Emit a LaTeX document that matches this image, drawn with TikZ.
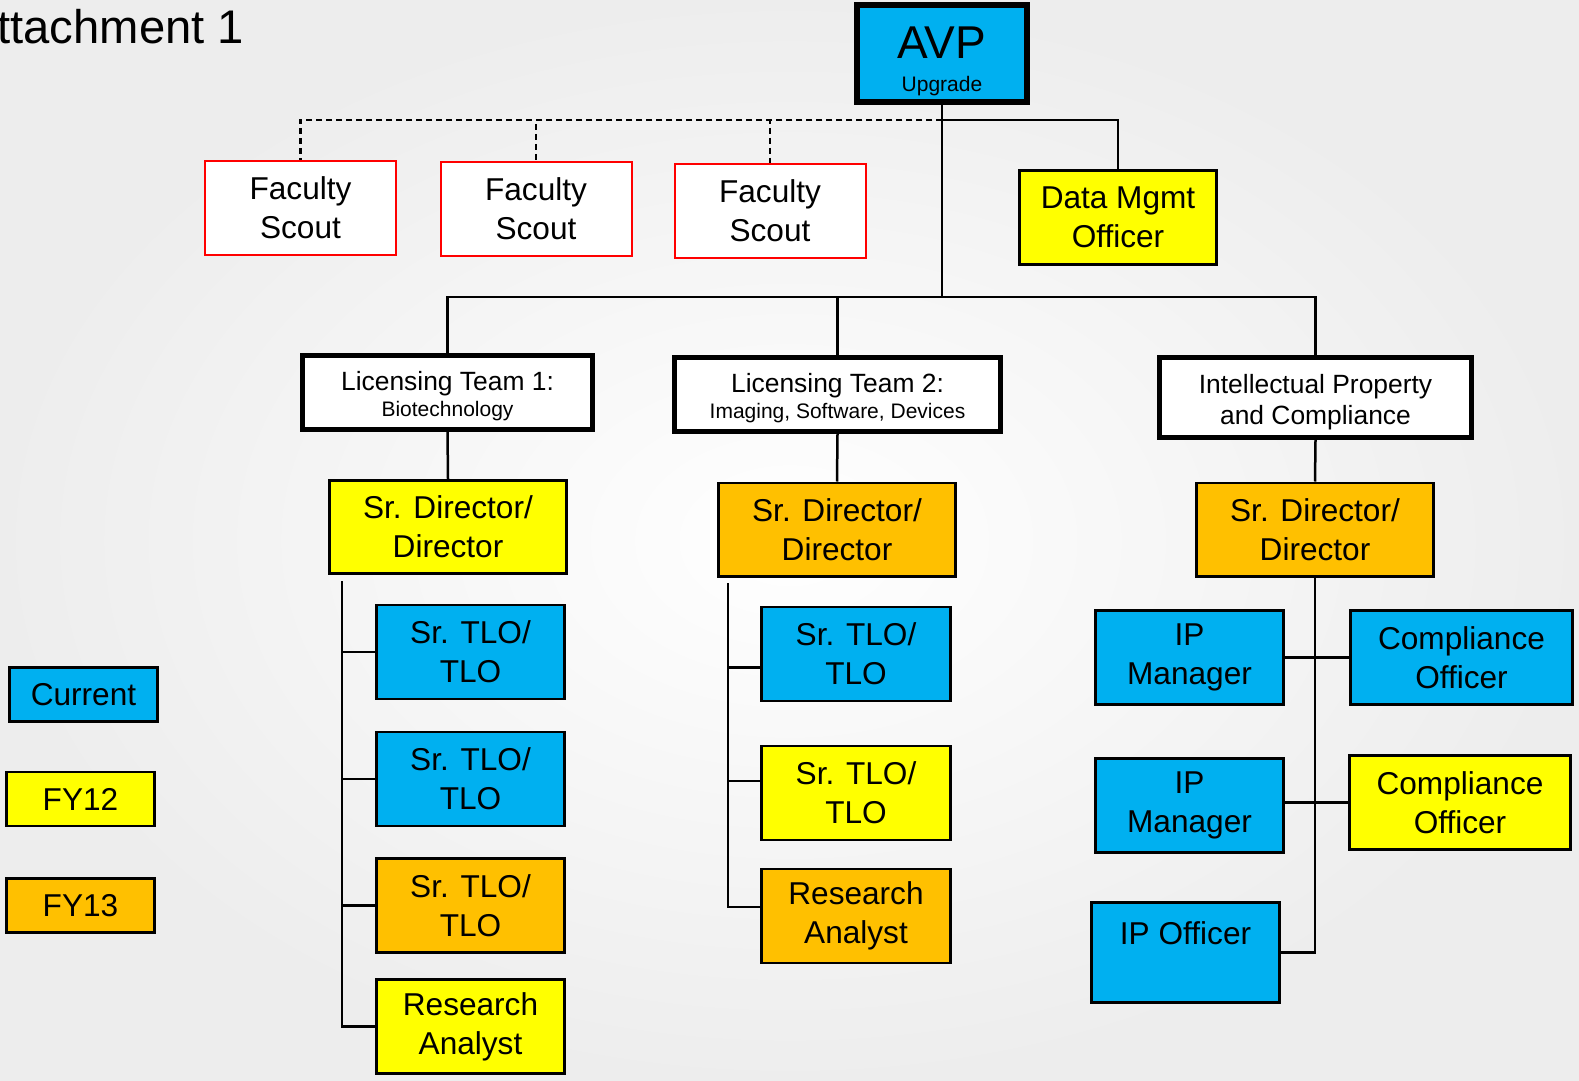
\documentclass[tikz,border=0pt]{standalone}
\usepackage{fontspec}
\setmainfont{Liberation Sans}
\definecolor{cblue}{RGB}{0,176,240}
\definecolor{cyellow}{RGB}{255,255,0}
\definecolor{corange}{RGB}{255,192,0}
\definecolor{cred}{RGB}{255,0,0}
\tikzset{
  box/.style={draw=black, line width=1.4pt, align=center, inner sep=0pt,
    minimum width=94pt, minimum height=47pt, font=\fontsize{15.8}{19.5}\selectfont},
  scout/.style={box, draw=cred, line width=1pt, fill=white, minimum width=95.5pt},
  teambox/.style={box, fill=white, line width=2.6pt, minimum height=37pt,
    font=\fontsize{13.2}{15.5}\selectfont},
  dirbox/.style={box, minimum width=118.6pt, minimum height=46.6pt},
  keybox/.style={box, minimum width=74pt, minimum height=27pt},
  link/.style={line width=1.25pt},
}
\newcommand{\smalltxt}{\fontsize{10.5}{12}\selectfont}
\begin{document}
\begin{tikzpicture}[x=0.5pt,y=0.5pt,yscale=-1,xscale=1]
\useasboundingbox (0,0) rectangle (1579,1081);
%Background
\shade[inner color=white, outer color=black!7] (0,0) rectangle (1579,1081);

% Text Node
\node[anchor=west, inner sep=0pt, font=\fontsize{23.6}{27}\selectfont] (title) at (-3,27) {ttachment 1};

%Shape: Rectangle [AVP]
\node[box, fill=cblue, line width=3pt, minimum width=85pt, minimum height=48.5pt] (avp) at (942,53.5)
  {{\fontsize{23}{26}\selectfont\rule{0pt}{24pt}AVP}\\[-3pt]{\smalltxt Upgrade}};

%Shape: Rectangle [scouts and data officer]
\node[scout] (fs1) at (300.5,207.5) {Faculty\\Scout};
\node[scout] (fs2) at (536,208.5) {Faculty\\Scout};
\node[scout] (fs3) at (770,211) {Faculty\\Scout};
\node[box, fill=cyellow, minimum width=98.5pt] (dmo) at (1118,217.5) {Data Mgmt\\Officer};

%Shape: Rectangle [teams]
\node[teambox, minimum width=145pt] (lt1) at (447.5,392.5) {\rule{0pt}{13pt}Licensing Team 1:\\[-2.5pt]{\smalltxt Biotechnology}};
\node[teambox, minimum width=163pt] (lt2) at (837.5,394.5) {\rule{0pt}{13pt}Licensing Team 2:\\[-2.5pt]{\smalltxt Imaging, Software, Devices}};
\node[teambox, minimum width=156pt, minimum height=40pt] (ipc) at (1315.5,397.5) {\rule{0pt}{14.6pt}Intellectual Property\\and Compliance};

%Shape: Rectangle [directors]
\node[dirbox, fill=cyellow] (sd1) at (448,527) {Sr. Director/\\Director};
\node[dirbox, fill=corange] (sd2) at (837,529.5) {Sr. Director/\\Director};
\node[dirbox, fill=corange] (sd3) at (1315,529.5) {Sr. Director/\\Director};

%Shape: Rectangle [team 1 staff]
\node[box, fill=cblue] (t11) at (470.5,652) {Sr. TLO/\\TLO};
\node[box, fill=cblue] (t12) at (470.5,779) {Sr. TLO/\\TLO};
\node[box, fill=corange] (t13) at (470.5,905.5) {Sr. TLO/\\TLO};
\node[box, fill=cyellow] (ra1) at (470.5,1026.5) {Research\\Analyst};

%Shape: Rectangle [team 2 staff]
\node[box, fill=cblue, minimum width=94.5pt] (t21) at (856,654) {Sr. TLO/\\TLO};
\node[box, fill=cyellow, minimum width=94.5pt] (t22) at (856,793) {Sr. TLO/\\TLO};
\node[box, fill=corange, minimum width=94.5pt] (ra2) at (856,916) {Research\\Analyst};

%Shape: Rectangle [IP staff]
\node[box, fill=cblue] (ipm1) at (1189.5,657.5) {IP\\Manager};
\node[box, fill=cblue, minimum width=111pt] (co1) at (1461.5,657.5) {Compliance\\Officer};
\node[box, fill=cblue] (ipm2) at (1189.5,805.5) {IP\\Manager};
\node[box, fill=cyellow, minimum width=110.5pt] (co2) at (1460,802.5) {Compliance\\Officer};
\node[box, fill=cblue, minimum height=50pt] (ipo) at (1185.5,952.5) {IP Officer\\\mbox{}};

%Shape: Rectangle [key]
\node[keybox, fill=cblue] (cur) at (83.5,694.5) {Current};
\node[keybox, fill=cyellow] (fy12) at (80.5,799) {FY12};
\node[keybox, fill=corange] (fy13) at (80.5,905.5) {FY13};

%Straight Lines [top level]
\coordinate (top) at (942,120);
\coordinate (mid) at (942,297);
\draw[link] (avp.south) -- (mid);
\draw[link] (top) -| (dmo.north);
\draw[link, dash pattern={on 3pt off 2pt}] (top) -| (fs1.north);
\draw[link, dash pattern={on 3pt off 2pt}] (top) -| (fs2.north);
\draw[link, dash pattern={on 3pt off 2pt}] (top) -| (fs3.north);
\draw[link] (lt1.north) |- (mid) -| (ipc.north);
\draw[link] (mid) -| (lt2.north);
\draw[link] (lt1.south) -- (sd1.north);
\draw[link] (lt2.south) -- (sd2.north);
\draw[link] (ipc.south) -- (sd3.north);

%Straight Lines [team 1]
\coordinate (bus1) at (342,581);
\draw[link] (bus1) |- (ra1.west);
\foreach \n in {t11,t12,t13}
  \draw[link] (\n.west) -- (\n.west -| bus1);

%Straight Lines [team 2]
\coordinate (bus2) at (728,583);
\draw[link] (bus2) |- ([yshift=-4.6pt]ra2.west);
\draw[link] ([yshift=6.8pt]t21.west) -- ([yshift=6.8pt]t21.west -| bus2);
\draw[link] ([yshift=-6.1pt]t22.west) -- ([yshift=-6.1pt]t22.west -| bus2);

%Straight Lines [IP]
\draw[link] (sd3.south) |- (ipo.east);
\draw[link] (ipm1.east) -- (co1.west);
\draw[link] (co2.west) -- (co2.west -| ipm2.east);

\end{tikzpicture}
\end{document}
